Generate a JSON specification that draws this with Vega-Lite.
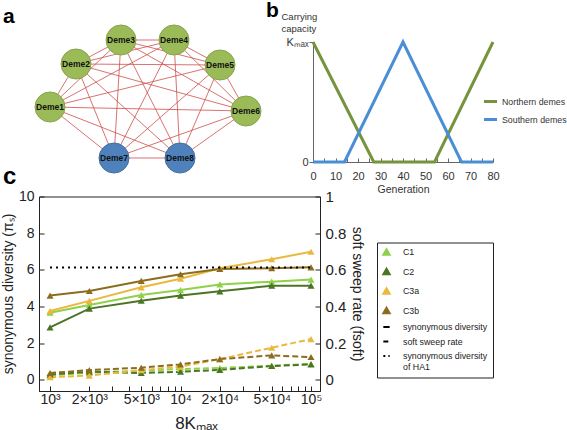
{
  "$schema": "https://vega.github.io/schema/vega-lite/v6.json",
  "padding": {"left": 0, "top": 0, "right": 0, "bottom": 0},
  "background": "white",
  "config": {
    "font": "Liberation Sans",
    "view": {"stroke": null},
    "axis": {"grid": false, "labelFont": "Liberation Sans", "titleFont": "Liberation Sans", "titleFontWeight": "normal", "labelOverlap": false, "labelFlush": false, "labelBound": false},
    "title": {"font": "Liberation Sans", "fontWeight": "bold", "anchor": "start", "frame": "group", "color": "#000"}
  },
  "resolve": {
    "scale": {"color": "independent", "fill": "independent", "stroke": "independent", "shape": "independent", "strokeDash": "independent"},
    "legend": {"color": "independent", "fill": "independent", "stroke": "independent", "shape": "independent", "strokeDash": "independent"}
  },
  "datasets": {
    "nodes": [
      {"name": "Deme1", "x": 49, "y": 107, "group": "north"},
      {"name": "Deme2", "x": 75, "y": 64, "group": "north"},
      {"name": "Deme3", "x": 120, "y": 40, "group": "north"},
      {"name": "Deme4", "x": 173, "y": 40, "group": "north"},
      {"name": "Deme5", "x": 219, "y": 65, "group": "north"},
      {"name": "Deme6", "x": 245, "y": 111, "group": "north"},
      {"name": "Deme7", "x": 113, "y": 158, "group": "south"},
      {"name": "Deme8", "x": 179, "y": 158, "group": "south"}
    ],
    "edges": [
      {"s": "Deme1", "t": "Deme2"}, {"s": "Deme1", "t": "Deme3"}, {"s": "Deme1", "t": "Deme4"}, {"s": "Deme1", "t": "Deme5"},
      {"s": "Deme1", "t": "Deme6"}, {"s": "Deme1", "t": "Deme7"}, {"s": "Deme1", "t": "Deme8"},
      {"s": "Deme2", "t": "Deme3"}, {"s": "Deme2", "t": "Deme4"}, {"s": "Deme2", "t": "Deme5"}, {"s": "Deme2", "t": "Deme6"},
      {"s": "Deme2", "t": "Deme7"}, {"s": "Deme2", "t": "Deme8"},
      {"s": "Deme3", "t": "Deme4"}, {"s": "Deme3", "t": "Deme5"}, {"s": "Deme3", "t": "Deme6"}, {"s": "Deme3", "t": "Deme7"},
      {"s": "Deme3", "t": "Deme8"},
      {"s": "Deme4", "t": "Deme5"}, {"s": "Deme4", "t": "Deme6"}, {"s": "Deme4", "t": "Deme7"}, {"s": "Deme4", "t": "Deme8"},
      {"s": "Deme5", "t": "Deme6"}, {"s": "Deme5", "t": "Deme7"}, {"s": "Deme5", "t": "Deme8"},
      {"s": "Deme6", "t": "Deme7"}, {"s": "Deme6", "t": "Deme8"},
      {"s": "Deme7", "t": "Deme8"}
    ],
    "capacity": [
      {"gen": 0, "cap": 1, "region": "Northern demes"},
      {"gen": 27, "cap": 0, "region": "Northern demes"},
      {"gen": 54, "cap": 0, "region": "Northern demes"},
      {"gen": 80, "cap": 1, "region": "Northern demes"},
      {"gen": 0, "cap": 0, "region": "Southern demes"},
      {"gen": 14, "cap": 0, "region": "Southern demes"},
      {"gen": 40, "cap": 1, "region": "Southern demes"},
      {"gen": 66, "cap": 0, "region": "Southern demes"},
      {"gen": 80, "cap": 0, "region": "Southern demes"}
    ],
    "sims": [
      {"k": 1000, "series": "C1", "div": 3.67, "soft": 0.025},
      {"k": 2000, "series": "C1", "div": 4.09, "soft": 0.04},
      {"k": 5000, "series": "C1", "div": 4.63, "soft": 0.05},
      {"k": 10000, "series": "C1", "div": 4.9, "soft": 0.06},
      {"k": 20000, "series": "C1", "div": 5.21, "soft": 0.065},
      {"k": 50000, "series": "C1", "div": 5.36, "soft": 0.078},
      {"k": 100000, "series": "C1", "div": 5.47, "soft": 0.088},
      {"k": 1000, "series": "C2", "div": 2.87, "soft": 0.03},
      {"k": 2000, "series": "C2", "div": 3.89, "soft": 0.045},
      {"k": 5000, "series": "C2", "div": 4.32, "soft": 0.038},
      {"k": 10000, "series": "C2", "div": 4.6, "soft": 0.045},
      {"k": 20000, "series": "C2", "div": 4.83, "soft": 0.055},
      {"k": 50000, "series": "C2", "div": 5.14, "soft": 0.076},
      {"k": 100000, "series": "C2", "div": 5.14, "soft": 0.085},
      {"k": 1000, "series": "C3a", "div": 3.76, "soft": 0.015},
      {"k": 2000, "series": "C3a", "div": 4.31, "soft": 0.024},
      {"k": 5000, "series": "C3a", "div": 5.05, "soft": 0.054},
      {"k": 10000, "series": "C3a", "div": 5.52, "soft": 0.073},
      {"k": 20000, "series": "C3a", "div": 6.09, "soft": 0.114},
      {"k": 50000, "series": "C3a", "div": 6.58, "soft": 0.176},
      {"k": 100000, "series": "C3a", "div": 6.99, "soft": 0.223},
      {"k": 1000, "series": "C3b", "div": 4.6, "soft": 0.038},
      {"k": 2000, "series": "C3b", "div": 4.85, "soft": 0.054},
      {"k": 5000, "series": "C3b", "div": 5.4, "soft": 0.067},
      {"k": 10000, "series": "C3b", "div": 5.76, "soft": 0.085},
      {"k": 20000, "series": "C3b", "div": 6.05, "soft": 0.114},
      {"k": 50000, "series": "C3b", "div": 6.09, "soft": 0.134},
      {"k": 100000, "series": "C3b", "div": 6.14, "soft": 0.125}
    ],
    "ha1": [{"from": 1000, "to": 100000, "value": 6.13}],
    "legendkeys": [
      {"key": "C1"}, {"key": "C2"}, {"key": "C3a"}, {"key": "C3b"},
      {"key": "synonymous diversity"}, {"key": "soft sweep rate"}, {"key": "synonymous diversity of HA1"}
    ]
  },
  "concat": [
    {
      "width": 264,
      "height": 120,
      "title": {"text": "a", "dx": -36, "dy": 10, "fontSize": 21, "offset": 6},
      "layer": [
        {
          "data": {"name": "edges"},
          "transform": [
            {"lookup": "s", "from": {"data": {"name": "nodes"}, "key": "name", "fields": ["x", "y"]}, "as": ["x1", "y1"]},
            {"lookup": "t", "from": {"data": {"name": "nodes"}, "key": "name", "fields": ["x", "y"]}, "as": ["x2", "y2"]}
          ],
          "mark": {"type": "rule", "color": "#cd4f4b", "strokeWidth": 0.8},
          "encoding": {
            "x": {"field": "x1", "type": "quantitative", "scale": {"domain": [38, 302], "nice": false, "zero": false}, "axis": null},
            "y": {"field": "y1", "type": "quantitative", "scale": {"domain": [42, 162], "reverse": true, "nice": false, "zero": false}, "axis": null},
            "x2": {"field": "x2"},
            "y2": {"field": "y2"}
          }
        },
        {
          "data": {"name": "nodes"},
          "mark": {"type": "point", "shape": "circle", "filled": true, "size": 900, "strokeWidth": 1, "opacity": 1},
          "encoding": {
            "x": {"field": "x", "type": "quantitative", "axis": null},
            "y": {"field": "y", "type": "quantitative", "axis": null},
            "fill": {"field": "group", "type": "nominal", "scale": {"domain": ["north", "south"], "range": ["#9bbb59", "#4f81bd"]}, "legend": null},
            "stroke": {"field": "group", "type": "nominal", "scale": {"domain": ["north", "south"], "range": ["#86a34a", "#41709f"]}, "legend": null}
          }
        },
        {
          "data": {"name": "nodes"},
          "mark": {"type": "text", "fontWeight": "bold", "fontSize": 8.5, "color": "#111"},
          "encoding": {
            "x": {"field": "x", "type": "quantitative", "axis": null},
            "y": {"field": "y", "type": "quantitative", "axis": null},
            "text": {"field": "name"}
          }
        }
      ]
    },
    {
      "width": 180,
      "height": 120,
      "title": {"text": "b", "dx": -47, "dy": 10, "fontSize": 21, "offset": 0},
      "data": {"name": "capacity"},
      "mark": {"type": "line", "strokeWidth": 3},
      "encoding": {
        "x": {
          "field": "gen", "type": "quantitative",
          "scale": {"domain": [0, 80], "nice": false},
          "axis": {
            "values": [0, 5, 10, 15, 20, 25, 30, 35, 40, 45, 50, 55, 60, 65, 70, 75, 80],
            "labelExpr": "datum.value % 10 == 0 ? datum.label : ''",
            "tickSize": -4, "labelPadding": 12,
            "domainColor": "#666", "tickColor": "#666", "labelColor": "#333", "labelFontSize": 11,
            "title": "Generation", "titleFontSize": 10.5, "titleColor": "#333", "titlePadding": 3
          }
        },
        "y": {
          "field": "cap", "type": "quantitative",
          "scale": {"domain": [0, 1], "nice": false},
          "axis": {
            "values": [0, 1],
            "labelExpr": "datum.value == 1 ? 'Kₘₐₓ' : '0'",
            "tickSize": 4, "labelPadding": 1,
            "domainColor": "#666", "tickColor": "#666", "labelColor": "#333", "labelFontSize": 11,
            "title": ["Carrying", "capacity"], "titleAngle": 0, "titleAlign": "left", "titleBaseline": "middle",
            "titleX": -32, "titleY": -26, "titleFontSize": 9.5, "titleLineHeight": 12, "titleColor": "#333"
          }
        },
        "color": {
          "field": "region", "type": "nominal",
          "scale": {"domain": ["Northern demes", "Southern demes"], "range": ["#77933c", "#4a8fd6"]},
          "legend": {
            "title": null, "orient": "none", "legendX": 169, "legendY": 51,
            "symbolType": "stroke", "symbolStrokeWidth": 3, "symbolSize": 170,
            "labelFontSize": 8.8, "labelColor": "#333", "rowPadding": 3, "labelOffset": 3
          }
        }
      }
    },
    {
      "width": 281,
      "height": 194.5,
      "view": {"stroke": "#222", "strokeWidth": 1},
      "title": {"text": "c", "dx": -36, "fontSize": 24, "offset": 1},
      "resolve": {"scale": {"y": "independent"}},
      "layer": [
        {
          "layer": [
            {
              "data": {"name": "sims"},
              "mark": {"type": "line", "strokeWidth": 2},
              "encoding": {
                "x": {
                  "field": "k", "type": "quantitative",
                  "scale": {"type": "log", "domain": [823, 117200], "nice": false},
                  "axis": {
                    "values": [1000, 2000, 3000, 4000, 5000, 6000, 7000, 8000, 9000, 10000, 20000, 30000, 40000, 50000, 60000, 70000, 80000, 90000, 100000],
                    "labelExpr": "datum.value == 1000 ? '10³' : datum.value == 2000 ? '2×10³' : datum.value == 5000 ? '5×10³' : datum.value == 10000 ? '10⁴' : datum.value == 20000 ? '2×10⁴' : datum.value == 50000 ? '5×10⁴' : datum.value == 100000 ? '10⁵' : ''",
                    "tickSize": -5, "labelPadding": 6,
                    "domainColor": "#222", "tickColor": "#222", "labelColor": "#222", "labelFontSize": 14,
                    "title": "8Kₘₐₓ", "titleFontSize": 17, "titleColor": "#222",
                    "titleX": 157, "titleY": 32, "titleBaseline": "middle"
                  }
                },
                "y": {
                  "field": "div", "type": "quantitative",
                  "scale": {"domain": [-0.6, 10], "nice": false, "zero": false},
                  "axis": {
                    "orient": "left",
                    "values": [0, 2, 4, 6, 8, 10],
                    "labelOverlap": false,
                    "tickSize": -5, "labelPadding": 10,
                    "domainColor": "#222", "tickColor": "#222", "labelColor": "#222", "labelFontSize": 14,
                    "title": "synonymous diversity (πₛ)", "titleFontSize": 14, "titleColor": "#222",
                    "titleAngle": -90, "titleX": -31, "titleY": 97, "titleBaseline": "middle", "titleAlign": "center"
                  }
                },
                "color": {
                  "field": "series", "type": "nominal",
                  "scale": {"domain": ["C1", "C2", "C3a", "C3b"], "range": ["#8fd14a", "#4b7524", "#ebb83e", "#8c6d1f"]},
                  "legend": null
                }
              }
            },
            {
              "data": {"name": "sims"},
              "mark": {"type": "point", "shape": "triangle-up", "filled": true, "size": 50, "opacity": 1},
              "encoding": {
                "x": {"field": "k", "type": "quantitative"},
                "y": {"field": "div", "type": "quantitative", "axis": {"orient": "left", "values": [0, 2, 4, 6, 8, 10], "labelOverlap": false}},
                "color": {"field": "series", "type": "nominal", "legend": null}
              }
            },
            {
              "data": {"name": "ha1"},
              "mark": {"type": "rule", "color": "#000", "strokeWidth": 2, "strokeDash": [2, 4]},
              "encoding": {
                "x": {"field": "from", "type": "quantitative"},
                "x2": {"field": "to"},
                "y": {"field": "value", "type": "quantitative", "axis": {"orient": "left", "values": [0, 2, 4, 6, 8, 10], "labelOverlap": false}}
              }
            },
            {
              "data": {"name": "legendkeys"},
              "mark": {"type": "point", "clip": true, "strokeWidth": 2, "opacity": 1},
              "encoding": {
                "x": {"datum": 10000000, "type": "quantitative"},
                "y": {"datum": 0, "type": "quantitative", "axis": {"orient": "left", "values": [0, 2, 4, 6, 8, 10], "labelOverlap": false}},
                "fill": {
                  "field": "key", "type": "nominal",
                  "scale": {"domain": ["C1", "C2", "C3a", "C3b", "synonymous diversity", "soft sweep rate", "synonymous diversity of HA1"], "range": ["#8fd14a", "#4b7524", "#ebb83e", "#8c6d1f", "#000", "#000", "#000"]},
                  "legend": {
                    "title": null, "orient": "none", "legendX": 338, "legendY": 46,
                    "strokeColor": "#222", "padding": 5, "labelFontSize": 8.8, "labelColor": "#222", "rowPadding": 4.5, "labelOffset": 12,
                    "symbolStrokeWidth": 2, "symbolSize": 40,
                    "encode": {"symbols": {"update": {"size": {"signal": "length(datum.value) > 4 ? 1100 : 40"}}}},
                    "labelExpr": "datum.label == 'synonymous diversity of HA1' ? ['synonymous diversity', 'of HA1'] : (length(datum.label) < 4 ? '\u00a0\u00a0\u00a0\u00a0\u00a0\u00a0\u00a0\u00a0\u00a0\u00a0\u00a0\u00a0\u00a0' + datum.label : datum.label)"
                  }
                },
                "stroke": {
                  "field": "key", "type": "nominal",
                  "scale": {"domain": ["C1", "C2", "C3a", "C3b", "synonymous diversity", "soft sweep rate", "synonymous diversity of HA1"], "range": ["#8fd14a", "#4b7524", "#ebb83e", "#8c6d1f", "#000", "#000", "#000"]}
                },
                "shape": {
                  "field": "key", "type": "nominal",
                  "scale": {"domain": ["C1", "C2", "C3a", "C3b", "synonymous diversity", "soft sweep rate", "synonymous diversity of HA1"], "range": ["triangle-up", "triangle-up", "triangle-up", "triangle-up", "stroke", "stroke", "stroke"]}
                },
                "strokeDash": {
                  "field": "key", "type": "nominal",
                  "scale": {"domain": ["C1", "C2", "C3a", "C3b", "synonymous diversity", "soft sweep rate", "synonymous diversity of HA1"], "range": [[1, 0], [1, 0], [1, 0], [1, 0], [1, 0], [5, 3], [2, 3]]}
                }
              }
            }
          ]
        },
        {
          "layer": [
            {
              "data": {"name": "sims"},
              "mark": {"type": "line", "strokeWidth": 2, "strokeDash": [6, 3]},
              "encoding": {
                "x": {"field": "k", "type": "quantitative"},
                "y": {
                  "field": "soft", "type": "quantitative",
                  "scale": {"domain": [-0.06, 1], "nice": false, "zero": false},
                  "axis": {
                    "orient": "right",
                    "values": [0, 0.2, 0.4, 0.6, 0.8, 1],
                    "labelExpr": "datum.value == 0 ? '0' : datum.value == 1 ? '1' : format(datum.value, '.1f')",
                    "labelOverlap": false,
                    "tickSize": -5, "labelPadding": 10,
                    "domainColor": "#222", "tickColor": "#222", "labelColor": "#222", "labelFontSize": 15,
                    "title": "soft sweep rate (fsoft)", "titleFontSize": 14, "titleColor": "#222",
                    "titleAngle": 90, "titleX": 36, "titleY": 97, "titleBaseline": "middle", "titleAlign": "center"
                  }
                },
                "color": {"field": "series", "type": "nominal", "legend": null}
              }
            },
            {
              "data": {"name": "sims"},
              "mark": {"type": "point", "shape": "triangle-up", "filled": true, "size": 50, "opacity": 1},
              "encoding": {
                "x": {"field": "k", "type": "quantitative"},
                "y": {"field": "soft", "type": "quantitative", "axis": {"orient": "right", "values": [0, 0.2, 0.4, 0.6, 0.8, 1], "labelOverlap": false}},
                "color": {"field": "series", "type": "nominal", "legend": null}
              }
            }
          ]
        }
      ]
    }
  ],
  "columns": 2,
  "align": "none",
  "bounds": "flush",
  "spacing": {"row": 34.5, "column": -7}
}
